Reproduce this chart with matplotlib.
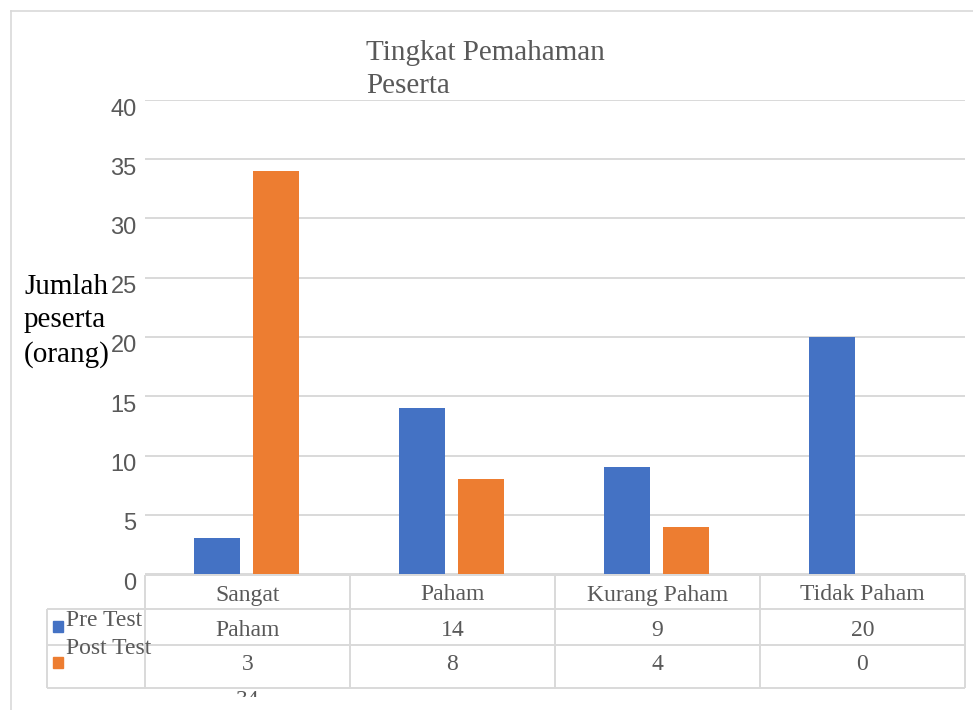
import numpy as np
import matplotlib
matplotlib.use('Agg')
import matplotlib.pyplot as plt
import matplotlib.transforms as mtransforms
from matplotlib.lines import Line2D
from matplotlib.patches import Rectangle

categories = ['Sangat Paham', 'Paham', 'Kurang Paham', 'Tidak Paham']
pre_test = [3, 14, 9, 20]
post_test = [34, 8, 4, 0]
series = ['Pre Test', 'Post Test']
title = 'Tingkat Pemahaman\nPeserta'
ylabel = 'Jumlah\npeserta\n(orang)'
yticks = [0, 5, 10, 15, 20, 25, 30, 35, 40]

blue = '#4472C4'
orange = '#ED7D31'
gridc = '#D9D9D9'
txt = '#595959'
serif = 'Liberation Serif'
sans = 'Liberation Sans'

W, H = 973, 710
fig = plt.figure(figsize=(W / 100, H / 100), dpi=100)


def fx(px):
    return px / W


def fy(py):
    return 1 - py / H


# outer chart border (only top and left visible)
fig.add_artist(Line2D([fx(11), 1], [fy(11), fy(11)], color=gridc, lw=1.2))
fig.add_artist(Line2D([fx(11), fx(11)], [fy(11), 0], color=gridc, lw=1.2))

# plot area
ax = fig.add_axes([fx(145), fy(574), fx(965) - fx(145), fy(100) - fy(574)])
x = np.arange(len(categories))
ax.bar(x - 0.148, pre_test, 0.224, color=blue, zorder=3)
ax.bar(x + 0.137, post_test, 0.224, color=orange, zorder=3)
ax.set_xlim(-0.5, 3.5)
ax.set_ylim(0, 40)
ax.set_yticks(yticks)
ax.set_xticks([])
ax.grid(axis='y', color=gridc, lw=1.4, zorder=0)
for s in ax.spines.values():
    s.set_visible(False)
ax.tick_params(axis='y', length=0, pad=6, labelsize=17, labelcolor=txt)
shift = mtransforms.ScaledTranslation(0, -7 / 100, fig.dpi_scale_trans)
for t in ax.yaxis.get_major_ticks():
    t.label1.set_fontfamily(sans)
    t.label1.set_transform(t.label1.get_transform() + shift)

# data table under the plot
unit = (965 - 145) / len(categories)
tax = fig.add_axes([fx(47), fy(697), fx(965) - fx(47), fy(575) - fy(697)])
tax.set_xlim(-0.5 - (145 - 47) / unit, len(categories) - 0.5)
tax.set_ylim(697, 575)
tax.axis('off')
x_left = -0.5 - (145 - 47) / unit
edges = np.arange(len(categories) + 1) - 0.5
kw = dict(color=gridc, lw=1.4, clip_on=False)
tax.hlines(575, edges[0], edges[-1], **kw)
for yy in [609, 645, 688]:
    tax.hlines(yy, x_left, edges[-1], **kw)
tax.vlines(edges, 575, 688, **kw)
tax.vlines(x_left, 609, 688, **kw)

rows_y = [595, 630, 665, 700]
tfont = dict(fontfamily=serif, fontsize=17, color=txt, ha='center', va='center')
first = categories[0].split(' ') + [str(pre_test[0]), str(post_test[0])]
for k, s in enumerate(first):
    tax.text(0, rows_y[k], s, clip_on=True, **tfont)
for i in range(1, len(categories)):
    cells = [categories[i], str(pre_test[i]), str(post_test[i])]
    for k, s in enumerate(cells):
        tax.text(i, rows_y[k], s, **tfont)

# legend keys inside the table
for col, yk, yt, name in [(blue, 621, 621, series[0]), (orange, 657, 649, series[1])]:
    fig.add_artist(Rectangle((fx(53), fy(yk + 11)), fx(10), fy(yk) - fy(yk + 11),
                             transform=fig.transFigure, color=col))
    fig.text(fx(66), fy(yt), name, fontfamily=serif, fontsize=17, color=txt,
             ha='left', va='center')

fig.text(fx(366), fy(40), title, fontfamily=serif, fontsize=21, color=txt,
         ha='left', va='top', linespacing=1.35)
fig.text(fx(24), fy(321), ylabel, fontfamily=serif, fontsize=21, color='black',
         ha='left', va='center', linespacing=1.38)

fig.savefig('out.png', dpi=100)
